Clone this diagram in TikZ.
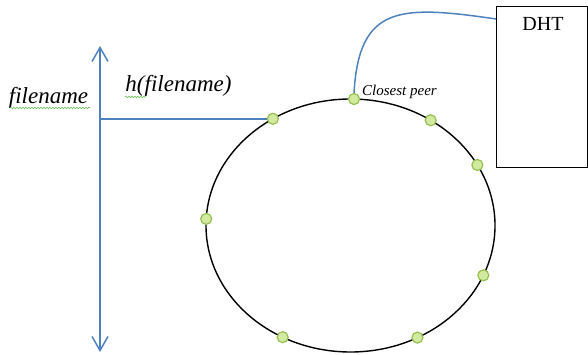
\documentclass[tikz,border=0pt]{standalone}
\usepackage{fontspec}
\setmainfont{Liberation Serif}
\usetikzlibrary{arrows.meta,calc,decorations.pathmorphing}
\definecolor{lineblue}{RGB}{79,129,189}
\definecolor{peerfill}{RGB}{210,234,160}
\definecolor{peerdraw}{RGB}{150,190,80}
\definecolor{squiggle}{RGB}{110,190,90}
\tikzset{
  peer/.style={circle, draw=peerdraw, fill=peerfill, line width=1.2pt, minimum size=11pt, inner sep=0pt},
  blueline/.style={draw=lineblue, line width=1.5pt},
  wavy/.style={draw=squiggle, line width=0.6pt, decorate, decoration={snake, amplitude=0.8pt, segment length=3pt}},
  txt/.style={inner sep=0pt, anchor=base}
}
\begin{document}
\begin{tikzpicture}[x=1pt,y=-1pt]
\useasboundingbox (0,0) rectangle (588,355);
% ring
\coordinate (c) at (350.5,225.5);
\draw[line width=1.4pt] (c) ellipse [x radius=144.5pt, y radius=126.5pt];
\node[peer] (p1) at ($(c)+(88.6:144.5pt and 126.5pt)$) {};
\node[peer] (p2) at ($(c)+(122.5:144.5pt and 126.5pt)$) {};
\node[peer] (p3) at ($(c)+(56.3:144.5pt and 126.5pt)$) {};
\node[peer] (p4) at ($(c)+(28.6:144.5pt and 126.5pt)$) {};
\node[peer] (p5) at ($(c)+(177:144.5pt and 126.5pt)$) {};
\node[peer] (p6) at ($(c)+(-23.2:144.5pt and 126.5pt)$) {};
\node[peer] (p7) at ($(c)+(242:144.5pt and 126.5pt)$) {};
\node[peer] (p8) at ($(c)+(297.6:144.5pt and 126.5pt)$) {};
% axis
\coordinate (atop) at (100,46);
\coordinate (abot) at (100,352);
\coordinate (aleft) at (atop |- p2);
\draw[blueline, {Straight Barb[length=14pt,width=16pt]}-{Straight Barb[length=14pt,width=16pt]}] (atop) -- (abot);
% DHT box
\node[draw, line width=1.4pt, minimum width=91pt, minimum height=161pt, anchor=north west, inner sep=0pt] (dht) at (496,6) {};
\node[txt, font=\fontsize{20}{24}\selectfont] (dhtlabel) at (543,31) {DHT};
% connectors
\draw[blueline] (aleft) -- (p2.west);
\coordinate (dhtin) at ($(dht.north west)+(0,13)$);
\draw[blueline] (p1.north) .. controls (359,5) and (400,5) .. (dhtin);
% texts
\node[txt, font=\fontsize{23}{27}\selectfont\itshape] (fn) at (48.5,104) {filename};
\node[txt, font=\fontsize{23}{27}\selectfont\itshape] (hfn) at (178.5,92) {h(filename)};
\node[txt, font=\fontsize{15}{18}\selectfont\itshape, anchor=base west] (cp) at (362,96) {Closest peer};
% spell-check squiggles
\draw[wavy] (10,108) -- (90,108);
\draw[wavy] (125,97) -- (146,97);
\end{tikzpicture}
\end{document}
